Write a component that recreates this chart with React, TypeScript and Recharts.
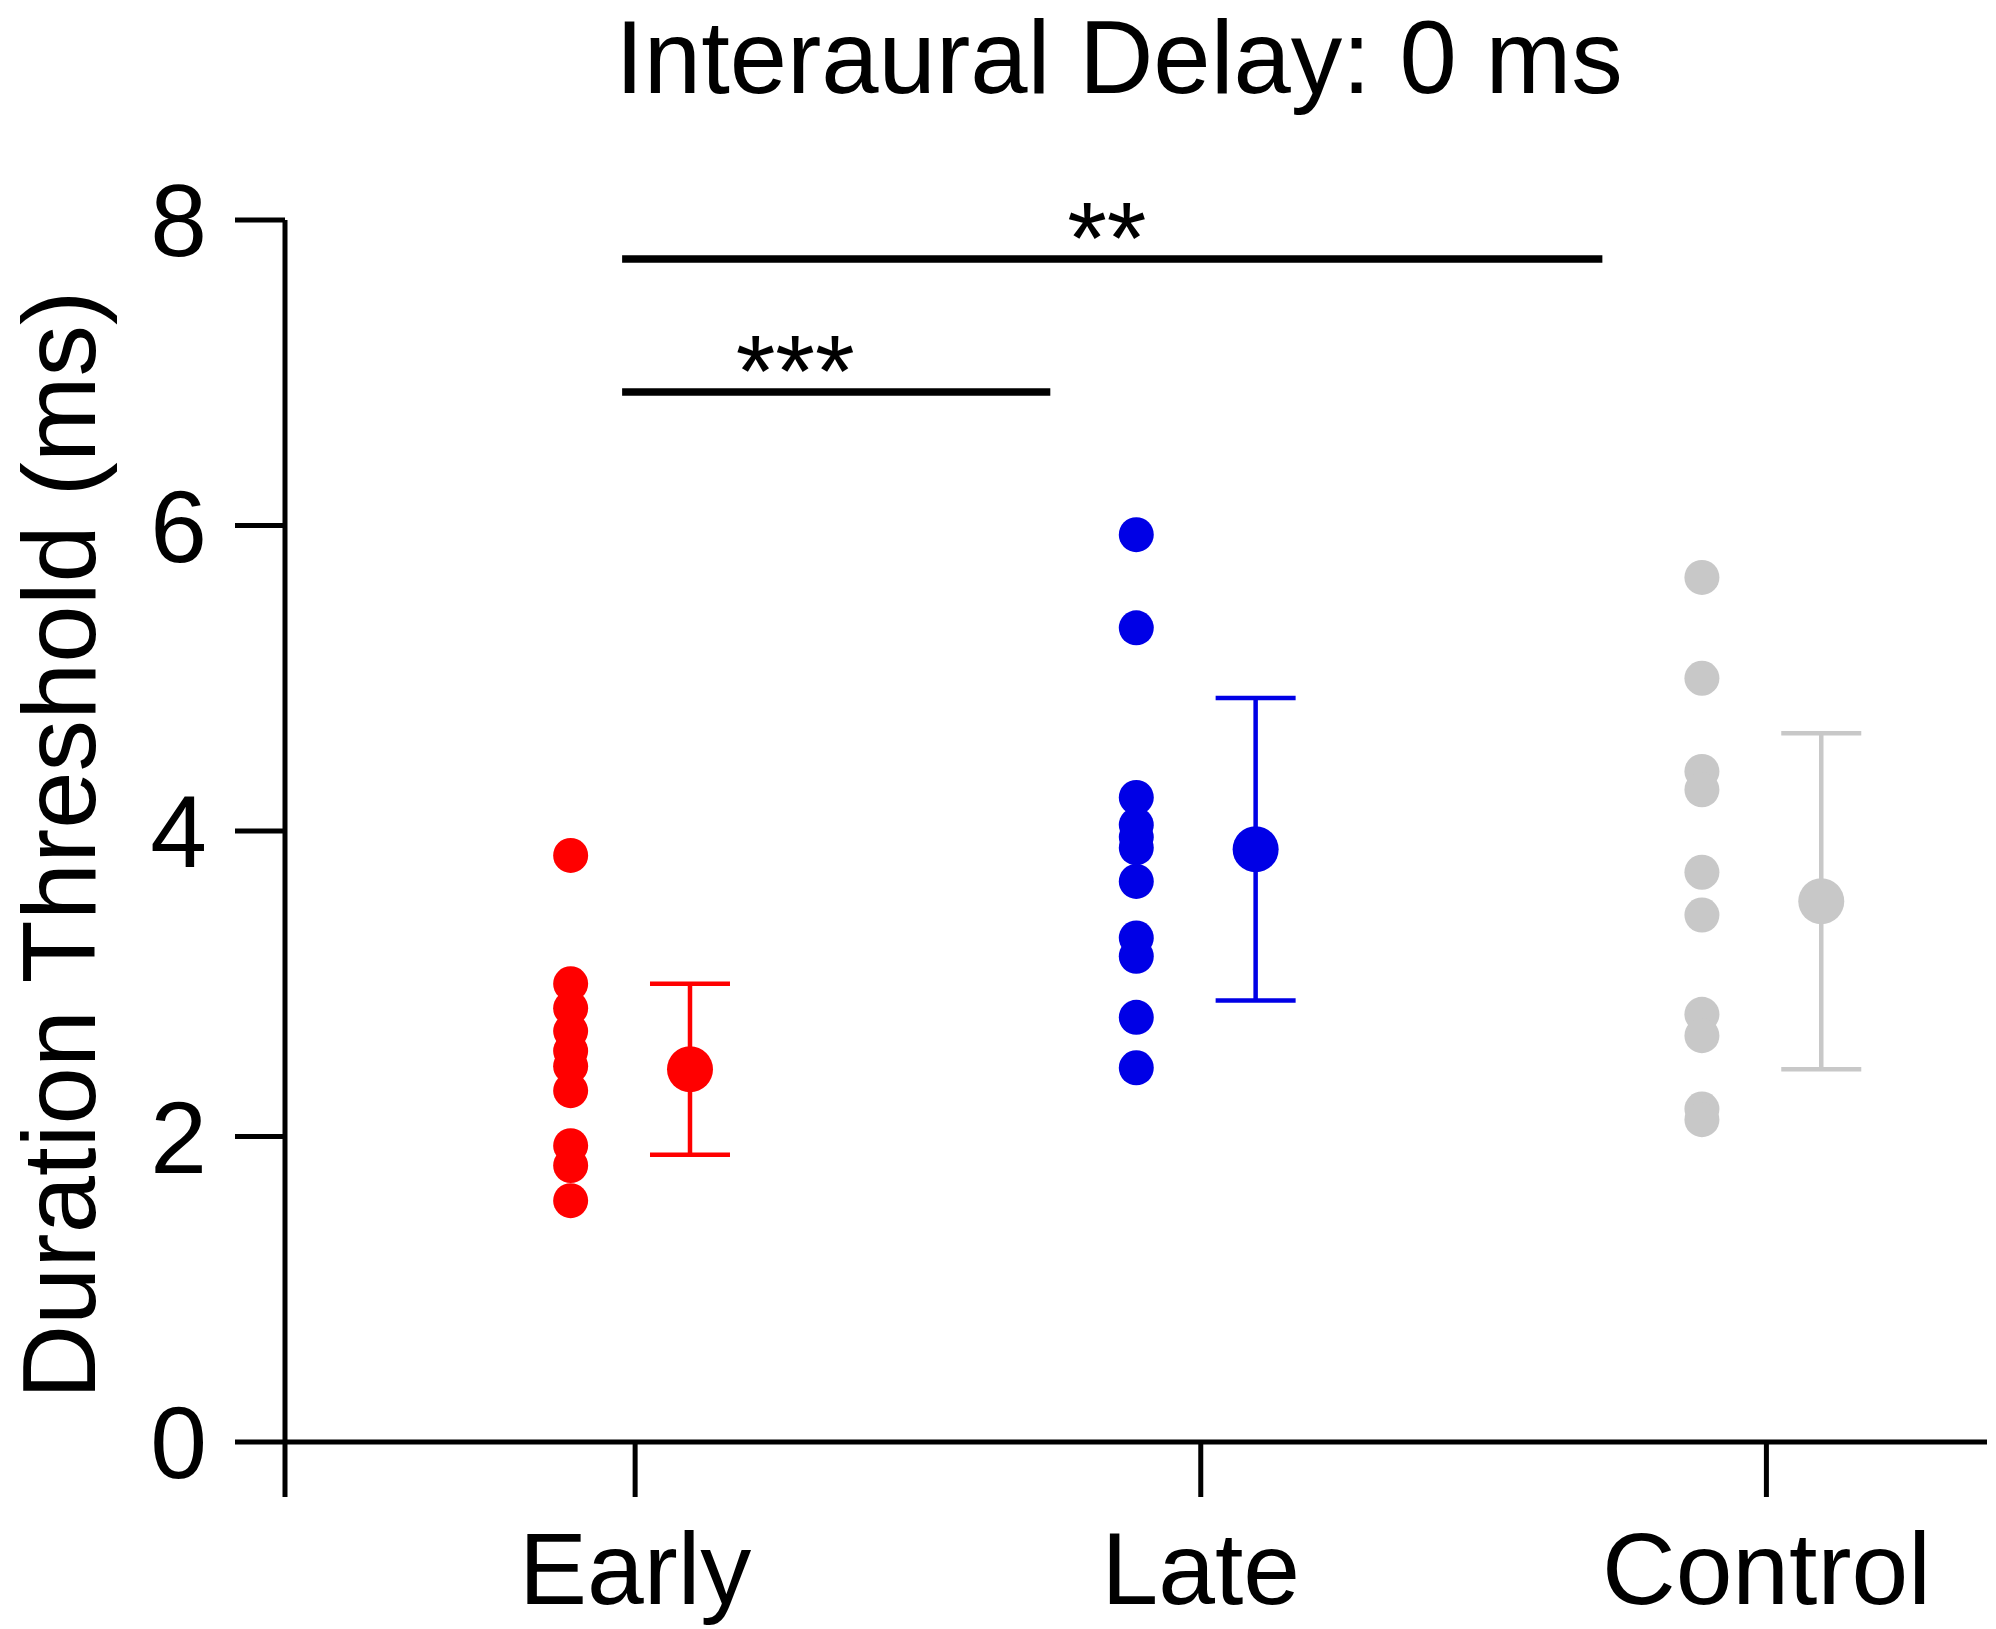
import React from 'react';
import {
  ScatterChart,
  Scatter,
  XAxis,
  YAxis,
  ErrorBar,
  ReferenceLine,
  ReferenceDot,
} from 'recharts';

// ---- data ----
const categories = ['Early', 'Late', 'Control'];
const earlyValues = [3.84, 3.0, 2.84, 2.69, 2.56, 2.46, 2.3, 1.94, 1.81, 1.58];
const lateValues = [5.94, 5.33, 4.22, 4.04, 3.96, 3.89, 3.67, 3.3, 3.18, 2.78, 2.45];
const controlValues = [5.66, 5.0, 4.39, 4.27, 3.73, 3.45, 2.8, 2.66, 2.18, 2.11];
const groupMeans = [2.44, 3.88, 3.54];
const groupErrors = [0.56, 0.99, 1.1];
const yTicks = [0, 2, 4, 6, 8];
const sigFrom = [0.977, 0.977];
const sigTo = [2.71, 1.734];
const sigLevel = [7.745, 6.874];
const sigLabels = ['**', '***'];
const sigLabelX = [1.834, 1.283];
const sigLabelY = [7.653, 6.782];

// ---- layout / style constants ----
const W = 1996;
const H = 1629;
const FONT = '"Liberation Sans", Arial, Helvetica, sans-serif';
const FS = 102;
const FS_BIG = 103;
const X_MIN = 0.381;
const X_MAX = 3.39;
const POINT_OFFSET = -0.114;
const MEAN_OFFSET = 0.097;
const COLORS = ['#ff0000', '#0000e6', '#c8c8c8'];
const groups = [earlyValues, lateValues, controlValues];

const pointData = groups.map((vals, gi) =>
  vals.map((v) => ({ x: gi + 1 + POINT_OFFSET, y: v }))
);
const meanData = groupMeans.map((m, gi) => [
  { x: gi + 1 + MEAN_OFFSET, y: m, err: groupErrors[gi] },
]);

const makeDot = (color: string, r: number) => (props: any) => {
  const { cx, cy } = props;
  if (cx == null || cy == null) return <g />;
  return <circle cx={cx} cy={cy} r={r} fill={color} stroke="none" />;
};

const yLabel = (props: any) => {
  const vb = props.viewBox || { x: 0, y: 220, width: 285, height: 1222 };
  const x = vb.x + 95;
  const y = vb.y + vb.height / 2 + 14;
  return (
    <text
      x={x}
      y={y}
      transform={`rotate(-90, ${x}, ${y})`}
      textAnchor="middle"
      fontFamily={FONT}
      fontSize={FS_BIG}
      fill="#000"
    >
      Duration Threshold (ms)
    </text>
  );
};

const starLabel = (text: string) => (props: any) => {
  const vb = props.viewBox || { x: 0, y: 0, width: 0, height: 0 };
  const x = vb.x + (vb.width || 0) / 2;
  const y = vb.y + (vb.height || 0) / 2;
  return (
    <text x={x} y={y} textAnchor="middle" fontFamily={FONT} fontSize={FS} fill="#000">
      {text}
    </text>
  );
};

export default function App() {
  return (
    <div
      style={{
        position: 'absolute',
        left: 0,
        top: 0,
        width: W,
        height: H,
        background: '#fff',
        overflow: 'hidden',
      }}
    >
      <div
        style={{
          position: 'absolute',
          left: 1119 - 700,
          width: 1400,
          top: 6,
          textAlign: 'center',
          fontFamily: FONT,
          fontSize: FS_BIG,
          lineHeight: `${FS_BIG}px`,
          color: '#000',
          whiteSpace: 'nowrap',
        }}
      >
        Interaural Delay: 0 ms
      </div>
      <div style={{ position: 'absolute', left: 0, top: 0 }}>
        <ScatterChart
          width={W}
          height={H}
          margin={{ top: 220, right: 9, bottom: 0, left: 0 }}
        >
          <XAxis
            type="number"
            dataKey="x"
            domain={[X_MIN, X_MAX]}
            allowDataOverflow
            ticks={[X_MIN, 1, 2, 3]}
            interval={0}
            tickFormatter={(v: number) => {
              const i = Math.round(v) - 1;
              return Math.abs(v - Math.round(v)) < 1e-6 && categories[i] ? categories[i] : '';
            }}
            height={187}
            tickSize={55}
            tickMargin={35}
            axisLine={{ stroke: '#000', strokeWidth: 5 }}
            tickLine={{ stroke: '#000', strokeWidth: 5 }}
            tick={{ fill: '#000', fontSize: FS, fontFamily: FONT }}
          />
          <YAxis
            type="number"
            dataKey="y"
            domain={[0, 8]}
            allowDataOverflow
            ticks={yTicks}
            interval={0}
            width={285}
            tickSize={50}
            tickMargin={28}
            axisLine={{ stroke: '#000', strokeWidth: 5 }}
            tickLine={{ stroke: '#000', strokeWidth: 5 }}
            tick={{ fill: '#000', fontSize: FS, fontFamily: FONT }}
            label={yLabel}
          />
          {sigLabels.map((lab, i) => (
            <ReferenceLine
              key={`sig-${i}`}
              segment={[
                { x: sigFrom[i], y: sigLevel[i] },
                { x: sigTo[i], y: sigLevel[i] },
              ]}
              stroke="#000"
              strokeWidth={7.5}
              ifOverflow="visible"
            />
          ))}
          {sigLabels.map((lab, i) => (
            <ReferenceDot
              key={`sigl-${i}`}
              x={sigLabelX[i]}
              y={sigLabelY[i]}
              r={1}
              fill="none"
              stroke="none"
              ifOverflow="visible"
              label={starLabel(lab)}
            />
          ))}
          {pointData.map((d, gi) => (
            <Scatter
              key={`pts-${gi}`}
              data={d}
              fill={COLORS[gi]}
              shape={makeDot(COLORS[gi], 17.5)}
              isAnimationActive={false}
            />
          ))}
          {meanData.map((d, gi) => (
            <Scatter
              key={`mean-${gi}`}
              data={d}
              fill={COLORS[gi]}
              shape={makeDot(COLORS[gi], 23)}
              isAnimationActive={false}
            >
              <ErrorBar
                dataKey="err"
                direction="y"
                width={40}
                strokeWidth={4.5}
                stroke={COLORS[gi]}
                isAnimationActive={false}
              />
            </Scatter>
          ))}
        </ScatterChart>
      </div>
    </div>
  );
}
